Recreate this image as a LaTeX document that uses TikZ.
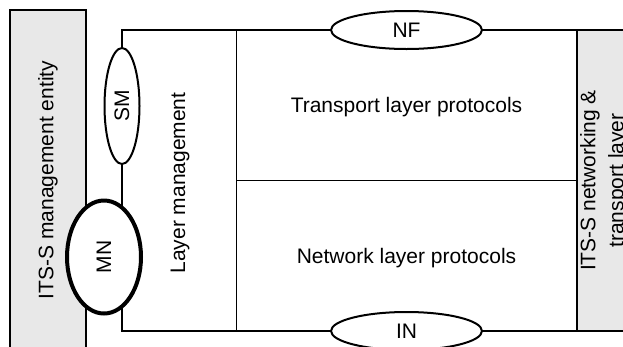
\documentclass[tikz,border=0pt]{standalone}
\usepackage{fontspec}
\setmainfont{Liberation Sans}
\usetikzlibrary{shapes.geometric,backgrounds}
\begin{document}
\begin{tikzpicture}[x=1pt,y=-1pt,
  every node/.style={font=\fontsize{21pt}{28pt}\selectfont},
  frame/.style={line width=2.6pt},
  thinline/.style={line width=1pt},
  oval/.style={draw, ellipse, fill=white, line width=2pt, inner sep=0pt},
  graybox/.style={draw, rectangle, fill=gray!18, inner sep=0pt, rotate=90, align=center}]
\clip (0,0) rectangle (623,346);
\useasboundingbox (0,0) rectangle (623,346);
% coordinates of the frame
\coordinate (tl) at (122,30);
\coordinate (bl) at (122,331);
\coordinate (tr) at (640,30);
\coordinate (br) at (640,331);
\coordinate (lmtop) at (236,30);
\coordinate (lmbot) at (236,331);
\coordinate (divl) at (236,180);
% ovals
\node[oval, minimum width=151pt, minimum height=38pt] (NF) at (406.5,30) {NF};
\node[oval, minimum width=151pt, minimum height=38pt] (IN) at (406.5,331) {IN};
\node[oval, rotate=90, minimum width=116pt, minimum height=35pt] (SM) at (122,106) {SM};
\node[oval, rotate=90, line width=4pt, minimum width=113pt, minimum height=74pt] (MN) at (104,257) {MN};
% texts
\node[rotate=90] (lm) at (180,183) {Layer management};
\node[anchor=base] (tp) at (406.5,112) {Transport layer protocols};
\node[anchor=base] (np) at (406.5,263) {Network layer protocols};
\begin{pgfonlayer}{background}
\node[graybox, line width=2.6pt, minimum width=340pt, minimum height=76pt] (ent) at (48,180) {ITS-S management entity};
\node[graybox, line width=1.8pt, minimum width=301pt, minimum height=54pt] (stack) at (604,180.5) {ITS-S networking \&\\transport layer};
\draw[thinline] (lmtop) -- (lmbot);
\draw[thinline] (divl) -- (divl -| stack.north);
\draw[frame] (NF.west) -- (tl) -- (SM.east);
\draw[frame] (SM.west) -- (bl) -- (IN.west);
\draw[frame] (NF.east) -- (tr);
\draw[frame] (IN.east) -- (br);
\end{pgfonlayer}
\end{tikzpicture}
\end{document}
